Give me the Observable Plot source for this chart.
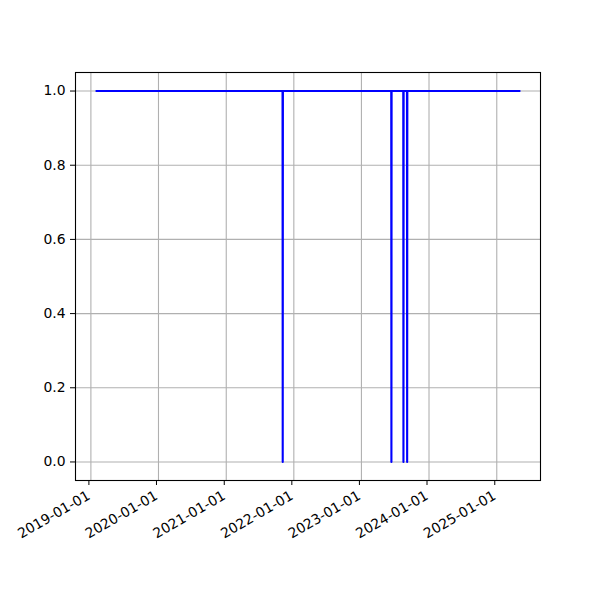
<!DOCTYPE html>
<html>
<head>
<meta charset="utf-8">
<script src="https://cdn.jsdelivr.net/npm/d3@7"></script>
<script src="https://cdn.jsdelivr.net/npm/@observablehq/plot@0.6"></script>
<style>
  html, body { margin: 0; padding: 0; background: #fff; }
  #chart { width: 600px; height: 600px; }
  svg { font-family: "DejaVu Sans", sans-serif; }
</style>
</head>
<body>
<div id="chart"></div>
<script>
const dates = [
  "2019-02-01",
  "2021-11-01", "2021-11-02", "2021-11-03",
  "2023-06-11", "2023-06-12", "2023-06-13",
  "2023-08-15", "2023-08-16", "2023-08-17",
  "2023-09-04", "2023-09-05", "2023-09-06",
  "2025-05-03"
];
const values = [1, 1, 0, 1, 1, 0, 1, 1, 0, 1, 1, 0, 1, 1];
const xTickLabels = ["2019-01-01", "2020-01-01", "2021-01-01", "2022-01-01", "2023-01-01", "2024-01-01", "2025-01-01"];
const yTicks = [0, 0.2, 0.4, 0.6, 0.8, 1.0];

const parse = d3.utcParse("%Y-%m-%d");
const data = dates.map((d, i) => ({date: parse(d), value: values[i]}));
const xTicks = xTickLabels.map(parse);

const [x0, x1] = d3.extent(data, d => d.date);
const pad = (x1 - x0) * 0.05;
const xDomain = [new Date(+x0 - pad), new Date(+x1 + pad)];

const chart = Plot.plot({
  width: 600,
  height: 600,
  marginLeft: 75,
  marginRight: 60,
  marginTop: 72,
  marginBottom: 120,
  style: {fontFamily: "DejaVu Sans, sans-serif", fontSize: "13.9px", background: "#fff", color: "#000"},
  x: {type: "utc", domain: xDomain},
  y: {domain: [-0.05, 1.05]},
  marks: [
    Plot.gridX(xTicks, {stroke: "#b0b0b0", strokeOpacity: 1, strokeWidth: 1.1}),
    Plot.gridY(yTicks, {stroke: "#b0b0b0", strokeOpacity: 1, strokeWidth: 1.1}),
    Plot.line(data, {x: "date", y: "value", stroke: "#0000ff", strokeWidth: 2.1, strokeLinecap: "square"}),
    Plot.frame({stroke: "#000", strokeWidth: 1.1}),
    Plot.axisY(yTicks, {tickFormat: d3.format(".1f"), tickSize: 5, tickPadding: 5, label: null, fontSize: 13.9, fill: "#000"}),
    Plot.axisX(xTicks, {tickFormat: d3.utcFormat("%Y-%m-%d"), tickSize: 5, tickPadding: 9, dx: -2, tickRotate: -30, label: null, fontSize: 13.9, fill: "#000"})
  ]
});
document.getElementById("chart").appendChild(chart);
</script>
</body>
</html>
